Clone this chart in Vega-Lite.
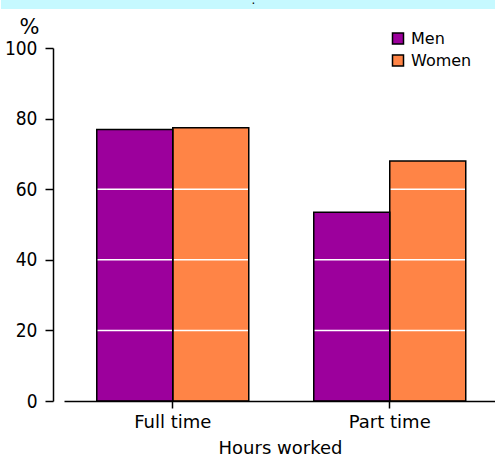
{
  "$schema": "https://vega.github.io/schema/vega-lite/v6.json",
  "padding": 0,
  "background": "white",
  "spacing": 0,
  "config": {"view": {"stroke": null}, "concat": {"spacing": 0}},
  "vconcat": [
    {
      "width": 495,
      "height": 9,
      "view": {"fill": "#c6f9ff", "stroke": null},
      "data": {"values": [{"t": "."}]},
      "mark": {"type": "text", "fontSize": 12, "font": "DejaVu Sans", "baseline": "alphabetic", "dx": 5, "dy": -1, "color": "black", "clip": true},
      "encoding": {"text": {"field": "t", "type": "nominal"}}
    },
    {
      "width": 495,
      "height": 392,
      "data": {"values": [
        {"hours": "Full time", "sex": "Men", "pct": 76.9},
        {"hours": "Full time", "sex": "Women", "pct": 77.4},
        {"hours": "Part time", "sex": "Men", "pct": 53.5},
        {"hours": "Part time", "sex": "Women", "pct": 68.0}
      ]},
      "layer": [
        {
          "mark": {"type": "bar", "strokeWidth": 0},
          "encoding": {
            "x": {
              "field": "hours", "type": "nominal",
              "scale": {"range": [63, 495], "paddingInner": 0.2995, "paddingOuter": 0.1452, "align": 0.52},
              "axis": {
                "title": "Hours worked", "labelAngle": 0, "zindex": 1,
                "labelFont": "DejaVu Sans", "labelFontSize": 18, "labelColor": "black",
                "titleFont": "DejaVu Sans", "titleFontSize": 18, "titleFontWeight": "normal", "titleColor": "black",
                "domainColor": "black", "domainWidth": 1.5, "tickColor": "black", "tickWidth": 1.5, "tickSize": 7,
                "labelPadding": 5, "titlePadding": 8, "grid": false
              }
            },
            "xOffset": {"field": "sex", "type": "nominal", "scale": {"paddingInner": 0, "paddingOuter": 0}},
            "y": {
              "field": "pct", "type": "quantitative",
              "scale": {"domain": [0, 100], "nice": false, "range": [392, 39]},
              "axis": {
                "title": "%", "titleAngle": 0, "titleAlign": "center", "titleBaseline": "alphabetic",
                "titleX": -24, "titleY": 24, "titleFont": "DejaVu Sans", "titleFontSize": 21,
                "titleFontWeight": "normal", "titleColor": "black", "zindex": 1,
                "values": [0, 20, 40, 60, 80, 100], "offset": -52,
                "labelFont": "DejaVu Sans Condensed", "labelFontSize": 19, "labelColor": "black",
                "labelPadding": 8, "tickSize": 8, "tickColor": "black", "tickWidth": 1.5,
                "domainColor": "black", "domainWidth": 1.5, "grid": false
              }
            },
            "color": {
              "field": "sex", "type": "nominal",
              "scale": {"domain": ["Men", "Women"], "range": ["#9c009c", "#ff8446"]},
              "legend": {
                "title": null, "orient": "none", "legendX": 389, "legendY": 30.5, "padding": 0,
                "symbolType": "square", "symbolSize": 121, "symbolStrokeColor": "black", "symbolStrokeWidth": 1.5,
                "symbolOpacity": 1,
                "labelFont": "DejaVu Sans", "labelFontSize": 16, "labelColor": "black", "labelOffset": 5,
                "rowPadding": 4
              }
            }
          }
        },
        {
          "data": {"values": [{"g": 20}, {"g": 40}, {"g": 60}, {"g": 80}]},
          "mark": {"type": "rule", "color": "white", "strokeWidth": 1.5},
          "encoding": {"y": {"field": "g", "type": "quantitative"}}
        },
        {
          "mark": {"type": "bar", "fillOpacity": 0, "stroke": "black", "strokeWidth": 1.5},
          "encoding": {
            "x": {"field": "hours", "type": "nominal"},
            "xOffset": {"field": "sex", "type": "nominal"},
            "y": {"field": "pct", "type": "quantitative"}
          }
        }
      ]
    }
  ]
}
